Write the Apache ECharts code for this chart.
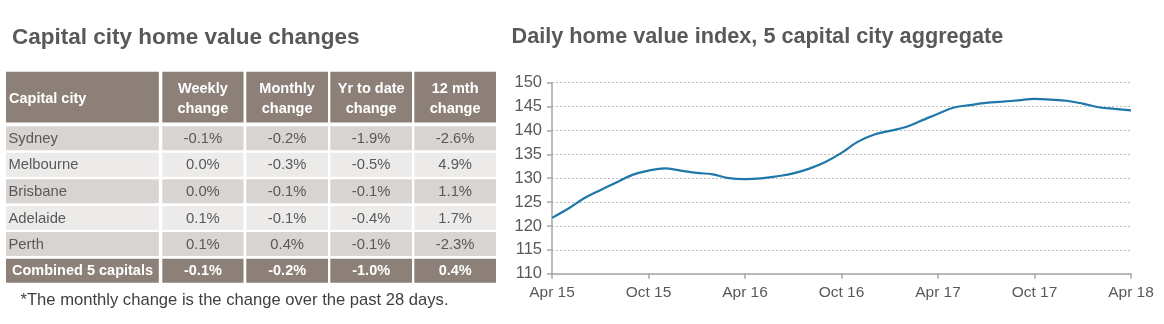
<!DOCTYPE html>
<html>
<head>
<meta charset="utf-8">
<script src="https://cdn.jsdelivr.net/npm/echarts@6/dist/echarts.min.js"></script>
<style>
html,body{margin:0;padding:0;background:#fff;}
#c{width:1164px;height:324px;}
</style>
</head>
<body>
<div id="c"></div>
<script>
// ---- Table data ----
const tableTitle = 'Capital city home value changes';
const tableHeaders = ['Capital city', 'Weekly\nchange', 'Monthly\nchange', 'Yr to date\nchange', '12 mth\nchange'];
const cities = ['Sydney', 'Melbourne', 'Brisbane', 'Adelaide', 'Perth'];
const weeklyChange = ['-0.1%', '0.0%', '0.0%', '0.1%', '0.1%'];
const monthlyChange = ['-0.2%', '-0.3%', '-0.1%', '-0.1%', '0.4%'];
const ytdChange = ['-1.9%', '-0.5%', '-0.1%', '-0.4%', '-0.1%'];
const twelveMonthChange = ['-2.6%', '4.9%', '1.1%', '1.7%', '-2.3%'];
const combinedRow = ['Combined 5 capitals', '-0.1%', '-0.2%', '-1.0%', '0.4%'];
const footnote = '*The monthly change is the change over the past 28 days.';

// ---- Chart data ----
const chartTitle = 'Daily home value index, 5 capital city aggregate';
const months = [
  'Apr 15','May 15','Jun 15','Jul 15','Aug 15','Sep 15','Oct 15','Nov 15','Dec 15','Jan 16','Feb 16','Mar 16',
  'Apr 16','May 16','Jun 16','Jul 16','Aug 16','Sep 16','Oct 16','Nov 16','Dec 16','Jan 17','Feb 17','Mar 17',
  'Apr 17','May 17','Jun 17','Jul 17','Aug 17','Sep 17','Oct 17','Nov 17','Dec 17','Jan 18','Feb 18','Mar 18',
  'Apr 18'
];
const indexValues = [
  121.7, 123.6, 125.8, 127.5, 129.1, 130.7, 131.6, 132.05, 131.6, 131.1, 130.8, 130.0,
  129.8, 129.95, 130.4, 131.0, 132.0, 133.4, 135.3, 137.6, 139.1, 139.9, 140.7, 142.1,
  143.5, 144.8, 145.3, 145.75, 146.0, 146.3, 146.6, 146.45, 146.2, 145.6, 144.85, 144.5,
  144.2
];

// ---- Build table graphics ----
const FONT = '"Liberation Sans", Arial, sans-serif';
const TXT = '#595959';
const HDR = '#8c8078';
const colX = [[6, 158.8], [162.3, 243.5], [246.3, 328], [330.3, 412], [414.3, 496]];
const headerY = [71.7, 122.5];
const rowTops = [126.3, 152.7, 179.3, 206, 232, 258.7];
const rowH = 24;
const rowFill = ['#d7d4d2', '#ecebea', '#d7d4d2', '#ecebea', '#d7d4d2'];

function txt(x, y, s, opt) {
  const st = Object.assign({
    text: s, fill: TXT, fontFamily: FONT, fontSize: 14.5,
    align: 'center', verticalAlign: 'middle',
    textAlign: 'center', textVerticalAlign: 'middle'
  }, opt || {});
  if (opt && opt.align) st.textAlign = opt.align;
  return { type: 'text', x: x, y: y, silent: true, style: st };
}

const graphics = [];
graphics.push(txt(12, 37.5, tableTitle, { align: 'left', fontSize: 22.5, fontWeight: 'bold', fill: TXT }));
graphics.push(txt(511.5, 37.5, chartTitle, { align: 'left', fontSize: 21.7, fontWeight: 'bold', fill: TXT }));

// header
colX.forEach(function (c, i) {
  graphics.push({ type: 'rect', silent: true, shape: { x: c[0], y: headerY[0], width: c[1] - c[0], height: headerY[1] - headerY[0] }, style: { fill: HDR } });
  if (i === 0) {
    graphics.push(txt(c[0] + 3, 98.5, tableHeaders[i], { align: 'left', fill: '#fff', fontWeight: 'bold' }));
  } else {
    graphics.push(txt((c[0] + c[1]) / 2, 98.5, tableHeaders[i], { fill: '#fff', fontWeight: 'bold', lineHeight: 20 }));
  }
});

// body rows
const bodyCols = [cities, weeklyChange, monthlyChange, ytdChange, twelveMonthChange];
cities.forEach(function (city, r) {
  colX.forEach(function (c, i) {
    graphics.push({ type: 'rect', silent: true, shape: { x: c[0], y: rowTops[r], width: c[1] - c[0], height: rowH }, style: { fill: rowFill[r] } });
    const v = bodyCols[i][r];
    if (i === 0) graphics.push(txt(c[0] + 2.5, rowTops[r] + rowH / 2 + 0.5, v, { align: 'left', fontSize: 14.8 }));
    else graphics.push(txt((c[0] + c[1]) / 2, rowTops[r] + rowH / 2 + 0.5, v, { fontSize: 14.8 }));
  });
});

// combined row
colX.forEach(function (c, i) {
  const top = rowTops[5];
  graphics.push({ type: 'rect', silent: true, shape: { x: c[0], y: top, width: c[1] - c[0], height: rowH }, style: { fill: HDR } });
  if (i === 0) graphics.push(txt(c[0] + 6, top + rowH / 2 + 0.5, combinedRow[i], { align: 'left', fill: '#fff', fontWeight: 'bold' }));
  else graphics.push(txt((c[0] + c[1]) / 2, top + rowH / 2 + 0.5, combinedRow[i], { fill: '#fff', fontWeight: 'bold' }));
});

graphics.push(txt(20.5, 300, footnote, { align: 'left', fontSize: 16.6, fill: '#404040' }));

// ---- Chart ----
const chart = echarts.init(document.getElementById('c'), null, { renderer: 'canvas' });
chart.setOption({
  animation: false,
  backgroundColor: '#fff',
  graphic: { elements: graphics },
  grid: { left: 552, right: 33, top: 82.6, bottom: 50.2, containLabel: false },
  xAxis: {
    type: 'category',
    data: months,
    boundaryGap: false,
    axisLine: { show: true, lineStyle: { color: '#a6a6a6', width: 1.5 } },
    axisTick: { show: true, interval: 5, length: 5, lineStyle: { color: '#a6a6a6', width: 1.5 } },
    axisLabel: { interval: 5, color: TXT, fontFamily: FONT, fontSize: 15.5, margin: 11 },
    splitLine: { show: false }
  },
  yAxis: {
    type: 'value',
    min: 110, max: 150, interval: 5,
    axisLine: { show: true, lineStyle: { color: '#a6a6a6', width: 1.5 } },
    axisTick: { show: true, length: 5, lineStyle: { color: '#a6a6a6', width: 1.5 } },
    axisLabel: { color: TXT, fontFamily: FONT, fontSize: 16.5, margin: 10 },
    splitLine: { show: true, lineStyle: { color: '#bdbdbd', type: [2, 2], width: 1 } }
  },
  series: [{
    type: 'line',
    data: indexValues,
    smooth: 0.4,
    symbol: 'none',
    lineStyle: { color: '#1f77aa', width: 2.2 },
    z: 3
  }]
});
</script>
</body>
</html>
